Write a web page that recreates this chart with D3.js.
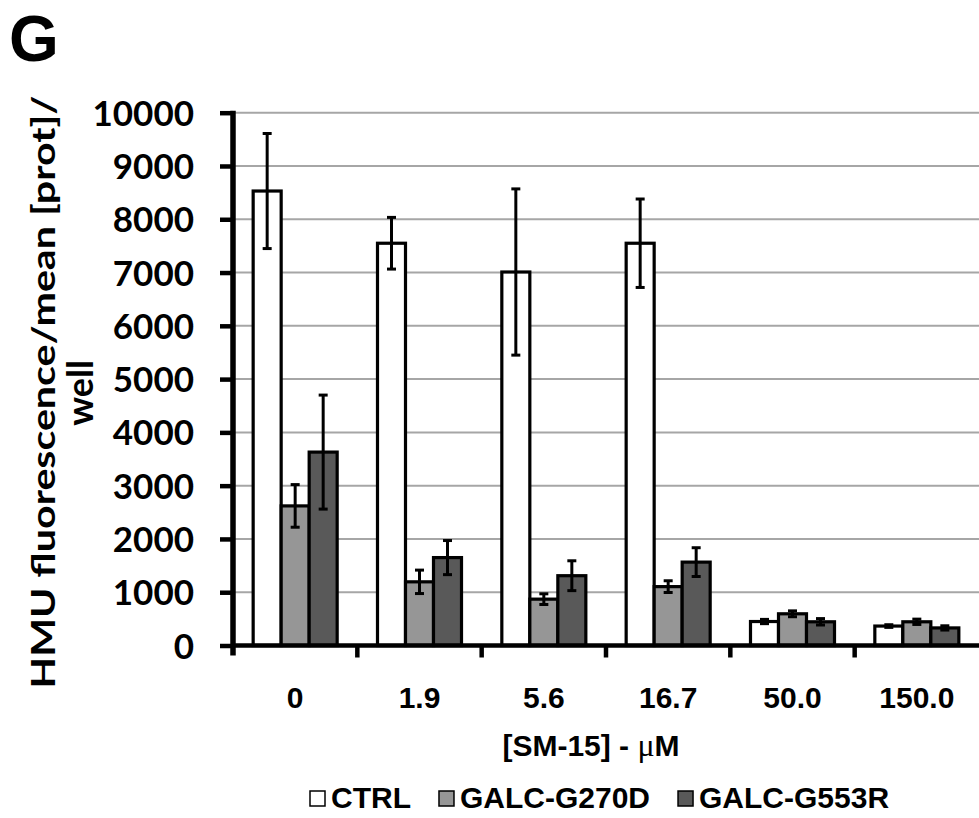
<!DOCTYPE html>
<html>
<head>
<meta charset="utf-8">
<script src="https://cdn.jsdelivr.net/npm/d3@7"></script>
<style>
  html, body { margin: 0; padding: 0; background: #fff; }
  svg { display: block; font-family: "Liberation Sans", Arial, sans-serif; font-weight: bold; }
</style>
</head>
<body>
<svg id="chart" width="979" height="818"></svg>
<script>
// SM-15 concentrations (µM)
const categories = ["0", "1.9", "5.6", "16.7", "50.0", "150.0"];
const seriesNames = ["CTRL", "GALC-G270D", "GALC-G553R"];
const seriesColors = ["#ffffff", "#969696", "#595959"];

// mean HMU fluorescence / mean [prot] / well
const ctrlValues   = [8530, 7550, 7010, 7550, 450, 365];
const g270dValues  = [2620, 1195, 870, 1105, 595, 445];
const g553rValues  = [3630, 1650, 1310, 1565, 445, 330];

// error bar half-widths
const ctrlErrors   = [1080, 485, 1560, 830, 40, 25];
const g270dErrors  = [400, 220, 100, 110, 55, 50];
const g553rErrors  = [1070, 320, 280, 270, 60, 40];

const yTicks = [0, 1000, 2000, 3000, 4000, 5000, 6000, 7000, 8000, 9000, 10000];

const values = [ctrlValues, g270dValues, g553rValues];
const errors = [ctrlErrors, g270dErrors, g553rErrors];

const svg = d3.select("#chart");
const plotLeft = 233, plotRight = 979, plotTop = 112.7, plotBottom = 645.5;
const labelFont = "Lato, 'Open Sans', sans-serif";

const x0 = d3.scaleBand().domain(categories).range([plotLeft, plotRight]).paddingInner(0).paddingOuter(0);
const x1 = d3.scaleBand().domain(seriesNames).range([0, x0.bandwidth()]).paddingInner(0).paddingOuter(0.72);
const y = d3.scaleLinear().domain([0, 10000]).range([plotBottom, plotTop]);

// horizontal gridlines
svg.append("g").selectAll("line").data(yTicks.slice(1)).join("line")
  .attr("x1", plotLeft).attr("x2", plotRight)
  .attr("y1", d => y(d)).attr("y2", d => y(d))
  .attr("stroke", "#a6a6a6").attr("stroke-width", 2);

// bars
const rows = [];
categories.forEach((c, i) => seriesNames.forEach((s, j) => {
  rows.push({ cat: c, series: s, color: seriesColors[j], value: values[j][i], err: errors[j][i] });
}));

svg.append("g").selectAll("rect").data(rows).join("rect")
  .attr("x", d => x0(d.cat) + x1(d.series))
  .attr("y", d => y(d.value))
  .attr("width", x1.bandwidth())
  .attr("height", d => y(0) - y(d.value))
  .attr("fill", d => d.color)
  .attr("stroke", "#000").attr("stroke-width", 3.2);

// error bars
const eb = svg.append("g").attr("stroke", "#000").attr("stroke-width", 3);
const cx = d => x0(d.cat) + x1(d.series) + x1.bandwidth() / 2;
eb.selectAll("line.v").data(rows).join("line").attr("class", "v")
  .attr("x1", cx).attr("x2", cx)
  .attr("y1", d => y(d.value + d.err)).attr("y2", d => y(d.value - d.err));
eb.selectAll("line.t").data(rows).join("line").attr("class", "t")
  .attr("x1", d => cx(d) - 4.5).attr("x2", d => cx(d) + 4.5)
  .attr("y1", d => y(d.value + d.err)).attr("y2", d => y(d.value + d.err));
eb.selectAll("line.b").data(rows).join("line").attr("class", "b")
  .attr("x1", d => cx(d) - 4.5).attr("x2", d => cx(d) + 4.5)
  .attr("y1", d => y(d.value - d.err)).attr("y2", d => y(d.value - d.err));

// x axis: baseline with ticks between groups
const xg = svg.append("g");
xg.append("line").attr("x1", plotLeft).attr("x2", plotRight).attr("y1", plotBottom).attr("y2", plotBottom)
  .attr("stroke", "#000").attr("stroke-width", 4.5);
xg.selectAll("line.tk").data(categories.slice(1)).join("line").attr("class", "tk")
  .attr("x1", d => x0(d)).attr("x2", d => x0(d))
  .attr("y1", plotBottom).attr("y2", plotBottom + 12)
  .attr("stroke", "#000").attr("stroke-width", 4.5);
xg.selectAll("text").data(categories).join("text")
  .attr("x", d => x0(d) + x0.bandwidth() / 2)
  .attr("y", 708)
  .attr("text-anchor", "middle").attr("font-size", 30).text(d => d);

// y axis
const yAxis = svg.append("g").attr("transform", `translate(${plotLeft},0)`)
  .call(d3.axisLeft(y).tickValues(yTicks).tickFormat(d3.format("d")).tickSize(13).tickPadding(26));
yAxis.select(".domain").attr("stroke-width", 5.5).attr("d", `M0,${plotTop - 2}V${plotBottom + 10}`);
yAxis.selectAll(".tick line").attr("stroke-width", 4.5);
yAxis.selectAll(".tick text").attr("font-size", 35).attr("font-family", labelFont)
  .attr("font-weight", "bold").attr("fill", "#000").attr("dy", "0.36em");

// axis titles
const xt = svg.append("text").attr("x", 591).attr("y", 756).attr("text-anchor", "middle")
  .attr("font-size", 30);
xt.append("tspan").text("[SM-15] - ");
xt.append("tspan").attr("font-family", "'Liberation Serif', serif").attr("font-weight", "normal")
  .attr("font-size", 32).text("μ");
xt.append("tspan").text("M");

svg.append("text").attr("transform", "translate(55,392) rotate(-90)")
  .attr("text-anchor", "middle").attr("font-family", labelFont).attr("font-size", 32)
  .attr("textLength", 593).attr("lengthAdjust", "spacingAndGlyphs")
  .text("HMU fluorescence/mean [prot]/");
svg.append("text").attr("transform", "translate(93,393) rotate(-90)")
  .attr("text-anchor", "middle").attr("font-family", labelFont).attr("font-size", 36)
  .text("well");

// panel letter
svg.append("text").attr("x", 9).attr("y", 61).attr("font-size", 64).text("G");

// legend: items laid out left to right with an even gap
const lg = svg.append("g");
let lx = 310;
seriesNames.forEach((s, j) => {
  lg.append("rect").attr("x", lx).attr("y", 791).attr("width", 15).attr("height", 15)
    .attr("fill", seriesColors[j]).attr("stroke", "#000").attr("stroke-width", 1.5);
  const t = lg.append("text").attr("x", lx + 21).attr("y", 808).attr("font-size", 30).text(s);
  lx += 21 + t.node().getComputedTextLength() + 28;
});
</script>
</body>
</html>
